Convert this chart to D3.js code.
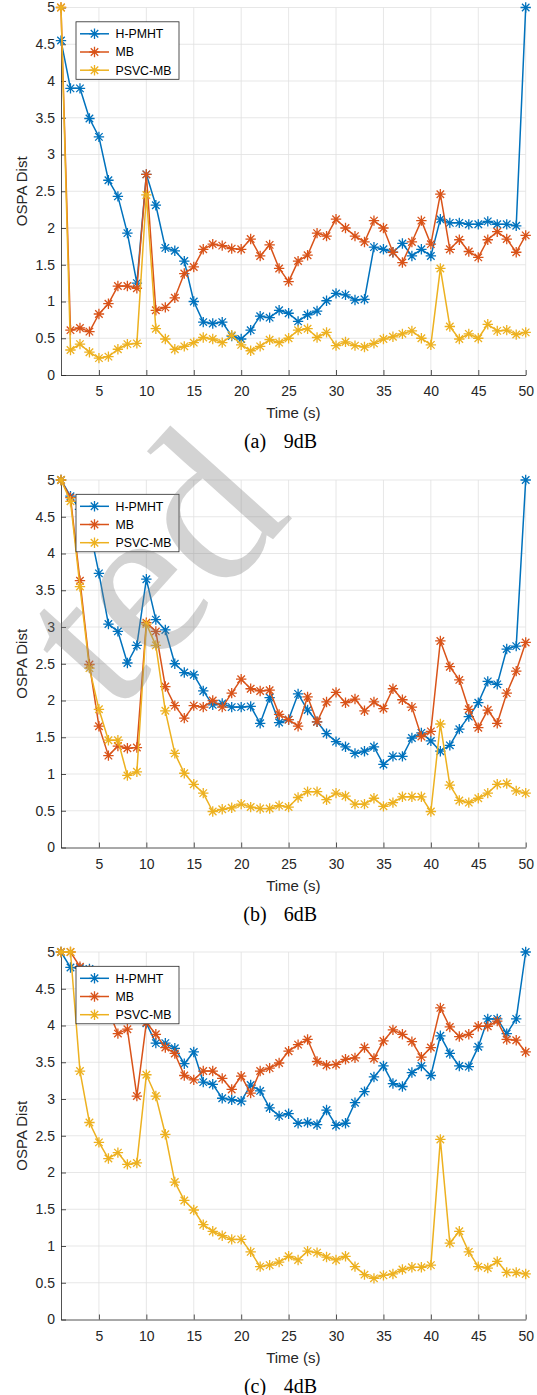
<!DOCTYPE html>
<html>
<head>
<meta charset="utf-8">
<script src="https://cdn.jsdelivr.net/npm/d3@7"></script>
<style>
  body { margin: 0; background: #fff; }
  svg { display: block; }
  .axis text { font-family: "Liberation Sans", Arial, sans-serif; font-size: 14px; fill: #262626; }
  .axis path, .axis line { stroke: #262626; stroke-width: 0.8; }
  .lab { font-family: "Liberation Sans", Arial, sans-serif; font-size: 15px; fill: #262626; }
  .leg { font-family: "Liberation Sans", Arial, sans-serif; font-size: 12.3px; fill: #000; }
  .cap { font-family: "Liberation Serif", "Times New Roman", serif; font-size: 20px; fill: #000; }
</style>
</head>
<body>
<div id="chart"></div>
<script>
// time steps (s)
const time = [1,2,3,4,5,6,7,8,9,10,11,12,13,14,15,16,17,18,19,20,21,22,23,24,25,
              26,27,28,29,30,31,32,33,34,35,36,37,38,39,40,41,42,43,44,45,46,47,48,49,50];

const seriesNames = ['H-PMHT', 'MB', 'PSVC-MB'];
const seriesColors = ['#0072BD', '#D95319', '#EDB120'];

// (a) 9dB
const hpmht9 = [4.55,3.90,3.90,3.49,3.24,2.65,2.43,1.93,1.25,2.73,2.31,1.73,1.69,1.55,1.00,0.72,0.70,0.72,0.53,0.49,
                0.61,0.80,0.78,0.88,0.84,0.73,0.82,0.87,1.01,1.11,1.09,1.02,1.03,1.74,1.71,1.67,1.79,1.62,1.71,1.62,
                2.12,2.07,2.07,2.05,2.05,2.09,2.05,2.05,2.03,5.00];
const mb9 = [5.00,0.61,0.64,0.59,0.83,0.97,1.21,1.21,1.18,2.73,0.88,0.92,1.05,1.38,1.47,1.71,1.78,1.76,1.72,1.71,
             1.85,1.62,1.77,1.45,1.27,1.55,1.63,1.93,1.89,2.12,2.00,1.89,1.81,2.10,2.00,1.67,1.53,1.81,2.10,1.78,
             2.46,1.71,1.84,1.68,1.60,1.84,1.95,1.85,1.67,1.90];
const psvc9 = [5.00,0.34,0.42,0.31,0.23,0.25,0.35,0.42,0.43,2.45,0.63,0.49,0.35,0.39,0.44,0.51,0.49,0.44,0.54,0.41,
               0.33,0.39,0.48,0.44,0.50,0.61,0.63,0.51,0.58,0.40,0.45,0.40,0.38,0.43,0.49,0.52,0.56,0.60,0.50,0.41,
               1.45,0.66,0.49,0.56,0.50,0.69,0.60,0.61,0.55,0.58];

// (b) 6dB
const hpmht6 = [5.00,4.78,4.60,4.35,3.73,3.04,2.94,2.51,2.75,3.65,3.10,2.96,2.50,2.38,2.35,2.13,1.94,1.96,1.91,1.91,
                1.92,1.69,2.04,1.70,1.74,2.09,1.87,1.71,1.55,1.44,1.37,1.28,1.31,1.37,1.13,1.24,1.24,1.49,1.56,1.45,
                1.31,1.39,1.61,1.78,1.97,2.26,2.22,2.70,2.74,5.00];
const mb6 = [5.00,4.76,3.63,2.49,1.65,1.25,1.38,1.35,1.36,3.06,2.94,2.19,1.93,1.76,1.93,1.91,2.00,1.91,2.10,2.29,
             2.16,2.13,2.14,1.81,1.74,1.65,2.05,1.71,1.98,2.11,1.97,2.02,1.86,1.98,1.89,2.16,2.01,1.91,1.51,1.58,
             2.81,2.46,2.28,1.88,1.63,1.87,1.69,2.10,2.40,2.79];
const psvc6 = [5.00,4.71,3.55,2.44,1.88,1.46,1.46,0.98,1.03,3.04,2.75,1.86,1.28,1.01,0.86,0.74,0.49,0.52,0.54,0.59,
               0.55,0.53,0.53,0.57,0.55,0.68,0.76,0.76,0.65,0.74,0.70,0.59,0.59,0.67,0.56,0.61,0.69,0.69,0.69,0.49,
               1.68,0.85,0.64,0.61,0.67,0.74,0.86,0.87,0.77,0.74];

// (c) 4dB
const hpmht4 = [5.00,4.79,4.78,4.77,4.62,4.50,4.40,4.30,4.20,4.03,3.76,3.76,3.69,3.48,3.64,3.23,3.20,3.01,2.99,2.97,
                3.19,3.11,2.88,2.77,2.80,2.67,2.68,2.65,2.85,2.64,2.67,2.95,3.10,3.30,3.45,3.21,3.17,3.36,3.45,3.32,
                3.86,3.62,3.45,3.44,3.71,4.09,4.09,3.89,4.09,5.00];
const mb4 = [5.00,5.00,4.80,4.75,4.50,4.20,3.89,3.95,3.04,4.04,3.88,3.70,3.62,3.32,3.26,3.38,3.38,3.28,3.13,3.31,
             3.08,3.38,3.42,3.49,3.65,3.74,3.81,3.51,3.46,3.47,3.54,3.56,3.70,3.55,3.79,3.94,3.88,3.78,3.57,3.70,
             4.24,3.98,3.85,3.88,3.99,3.99,4.06,3.81,3.80,3.64];
const psvc4 = [5.00,5.00,3.38,2.68,2.41,2.19,2.27,2.11,2.13,3.33,3.04,2.52,1.87,1.62,1.49,1.29,1.20,1.14,1.09,1.09,
               0.92,0.72,0.74,0.78,0.86,0.81,0.93,0.91,0.85,0.81,0.86,0.72,0.61,0.56,0.60,0.62,0.68,0.71,0.71,0.74,
               2.45,1.04,1.20,0.92,0.72,0.70,0.79,0.64,0.64,0.62];

const xTicks = [5,10,15,20,25,30,35,40,45,50];
const yTicks = [0,0.5,1,1.5,2,2.5,3,3.5,4,4.5,5];
const yTickLabels = ['0','0.5','1','1.5','2','2.5','3','3.5','4','4.5','5'];
const captionTags = ['(a)', '(b)', '(c)'];
const captionTexts = ['9dB', '6dB', '4dB'];

const panels = [
  [hpmht9, mb9, psvc9],
  [hpmht6, mb6, psvc6],
  [hpmht4, mb4, psvc4]
];

const width = 537, height = 1395;
const panelTops = [7.5, 480, 952];
const plotH = 367.5;
const left = 61, right = 525.7;

const svg = d3.select('#chart').append('svg')
  .attr('width', width)
  .attr('height', height);

// asterisk marker (plus + cross)
function starPath(r) {
  const a = r * 0.72;
  return `M${-r},0H${r}M0,${-r}V${r}M${-a},${-a}L${a},${a}M${-a},${a}L${a},${-a}`;
}

const x = d3.scaleLinear().domain([1, 50]).range([left, right]);

panels.forEach((series, i) => {
  const top = panelTops[i];
  const bottom = top + plotH;
  const y = d3.scaleLinear().domain([0, 5]).range([bottom, top]);
  const g = svg.append('g');

  // grid
  g.append('g').selectAll('line')
    .data(xTicks).join('line')
    .attr('x1', d => x(d)).attr('x2', d => x(d))
    .attr('y1', top).attr('y2', bottom)
    .attr('stroke', '#e1e1e1').attr('stroke-width', 0.8);
  g.append('g').selectAll('line')
    .data(yTicks.filter(d => d > 0)).join('line')
    .attr('x1', left).attr('x2', right)
    .attr('y1', d => y(d)).attr('y2', d => y(d))
    .attr('stroke', '#e1e1e1').attr('stroke-width', 0.8);

  // axes, ticks pointing inward
  g.append('g')
    .attr('class', 'axis')
    .attr('transform', `translate(0,${bottom})`)
    .call(d3.axisBottom(x).tickValues(xTicks).tickSizeInner(-5).tickSizeOuter(0).tickPadding(11.5));
  g.append('g')
    .attr('class', 'axis')
    .attr('transform', `translate(${left},0)`)
    .call(d3.axisLeft(y).tickValues(yTicks).tickSizeInner(-5).tickSizeOuter(0).tickPadding(6)
      .tickFormat((d, k) => yTickLabels[k]));

  // lines
  const line = d3.line()
    .x((d, k) => x(time[k]))
    .y(d => y(d));

  series.forEach((vals, s) => {
    const sg = g.append('g');
    sg.append('path')
      .datum(vals)
      .attr('d', line)
      .attr('fill', 'none')
      .attr('stroke', seriesColors[s])
      .attr('stroke-width', 1.5)
      .attr('stroke-linejoin', 'round');
    sg.selectAll('path.m')
      .data(vals).join('path')
      .attr('class', 'm')
      .attr('transform', (d, k) => `translate(${x(time[k])},${y(d)})`)
      .attr('d', starPath(5.2))
      .attr('stroke', seriesColors[s])
      .attr('stroke-width', 1.3)
      .attr('fill', 'none');
  });

  // legend
  const lx = left + 15, ly = top + 14.3;
  const leg = g.append('g').attr('transform', `translate(${lx},${ly})`);
  leg.append('rect')
    .attr('width', 103).attr('height', 57.5)
    .attr('fill', '#fff').attr('stroke', '#262626').attr('stroke-width', 0.8);
  seriesNames.forEach((name, s) => {
    const ry = 12 + s * 18.2;
    leg.append('line')
      .attr('x1', 4).attr('x2', 33).attr('y1', ry).attr('y2', ry)
      .attr('stroke', seriesColors[s]).attr('stroke-width', 1.5);
    leg.append('path')
      .attr('transform', `translate(18.5,${ry})`)
      .attr('d', starPath(5.2))
      .attr('stroke', seriesColors[s]).attr('stroke-width', 1.3).attr('fill', 'none');
    leg.append('text')
      .attr('class', 'leg')
      .attr('x', 39.5).attr('y', ry + 4.4)
      .text(name);
  });

  // axis labels
  g.append('text')
    .attr('class', 'lab')
    .attr('text-anchor', 'middle')
    .attr('transform', `translate(27,${(top + bottom) / 2}) rotate(-90)`)
    .text('OSPA Dist');
  g.append('text')
    .attr('class', 'lab')
    .attr('text-anchor', 'middle')
    .attr('x', (left + right) / 2)
    .attr('y', bottom + 43)
    .text('Time (s)');

  // caption
  g.append('text')
    .attr('class', 'cap')
    .attr('text-anchor', 'middle')
    .attr('x', 255).attr('y', bottom + 73)
    .text(captionTags[i]);
  g.append('text')
    .attr('class', 'cap')
    .attr('text-anchor', 'middle')
    .attr('x', 300.5).attr('y', bottom + 73)
    .text(captionTexts[i]);
});

// faint diagonal watermark across the upper-left
svg.append('text')
  .attr('transform', 'translate(114,716) rotate(-48)')
  .attr('font-family', '"Liberation Serif", "Times New Roman", serif')
  .attr('font-size', 220)
  .attr('fill', '#808080')
  .attr('fill-opacity', 0.35)
  .text('ted');
</script>
</body>
</html>
